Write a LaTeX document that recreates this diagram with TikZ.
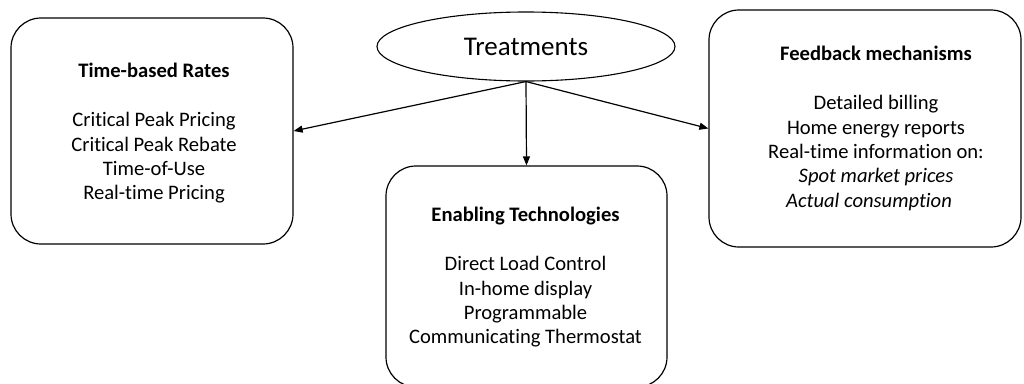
\documentclass[tikz,border=0pt]{standalone}
\usepackage{fontspec}
\setmainfont{Carlito}[Ligatures=NoCommon]
\usetikzlibrary{arrows.meta,shapes.geometric}
\tikzstyle{box}=[rectangle,rounded corners=30pt,draw=black,line width=1.2pt]
\tikzstyle{oval}=[ellipse,draw=black,line width=1.1pt,inner sep=0pt,
  minimum width=298pt,minimum height=69pt,font=\fontsize{27pt}{32pt}\selectfont]
\tikzstyle{txt}=[align=center,inner sep=0pt,font=\fontsize{20.6pt}{24.4pt}\selectfont]
\tikzstyle{arr}=[-{Triangle[length=9pt,width=7pt]},line width=1.2pt]

\begin{document}
\begin{tikzpicture}[x=1pt,y=-1pt]
    \useasboundingbox (0,0) rectangle (1024,383);
    \node [style=oval] (treat) at (526,46.5) {Treatments};
    \node [style=box,minimum width=282pt,minimum height=226pt] (rates) at (152,131) {};
    \node [style=box,minimum width=281pt,minimum height=221pt] (enabling) at (526.5,276.5) {};
    \node [style=box,minimum width=312pt,minimum height=237pt] (feedback) at (865,128.5) {};
    \node [style=txt] (ratestxt) at (154,133.5) {\textbf{Time-based Rates}\\[24.4pt]
      Critical Peak Pricing\\Critical Peak Rebate\\Time-of-Use\\Real-time Pricing};
    \node [style=txt] (enablingtxt) at (525.5,277.5) {\textbf{Enabling Technologies}\\[24.4pt]
      Direct Load Control\\In-home display\\Programmable\\Communicating Thermostat};
    \node [style=txt] (feedbacktxt) at (876,128.5) {\textbf{Feedback mechanisms}\\[24.4pt]
      Detailed billing\\Home energy reports\\Real-time information on:\\
      \textit{Spot market prices}\hspace*{14pt}\\\textit{Actual consumption}\hspace*{14pt}};
    \draw [style=arr] (treat.south) to (rates.east);
    \draw [style=arr] (treat.south) to (enabling.north);
    \draw [style=arr] (treat.south) to (feedback.west);
\end{tikzpicture}
\end{document}
